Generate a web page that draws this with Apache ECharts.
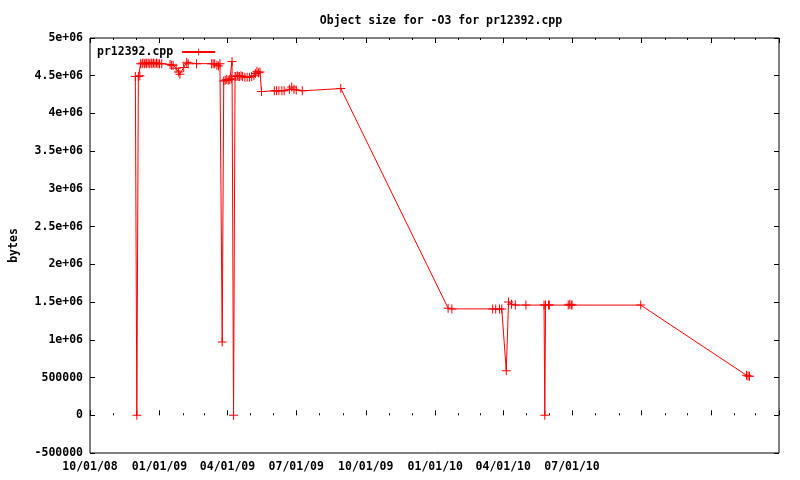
<!DOCTYPE html>
<html><head><meta charset="utf-8">
<script src="https://cdn.jsdelivr.net/npm/echarts@6/dist/echarts.min.js"></script>
<style>html,body{margin:0;padding:0;background:#fff}#c{width:800px;height:480px}</style>
</head><body><div id="c"></div>
<script>
const dates = [
'2008-11-30','2008-12-02','2008-12-04','2008-12-06','2008-12-07','2008-12-09','2008-12-10','2008-12-12','2008-12-14','2008-12-15',
'2008-12-17','2008-12-19','2008-12-21','2008-12-22','2008-12-24','2008-12-26','2008-12-28','2008-12-30','2009-01-01','2009-01-04',
'2009-01-15','2009-01-17','2009-01-19','2009-01-23','2009-01-26','2009-01-28','2009-02-02','2009-02-06','2009-02-08','2009-02-19',
'2009-03-11','2009-03-13','2009-03-15','2009-03-18','2009-03-20','2009-03-22','2009-03-25','2009-03-27','2009-03-29','2009-03-31',
'2009-04-02','2009-04-04','2009-04-06','2009-04-07','2009-04-09','2009-04-11','2009-04-12','2009-04-14','2009-04-15','2009-04-17',
'2009-04-19','2009-04-21','2009-04-24','2009-04-27','2009-04-30','2009-05-03','2009-05-06','2009-05-08','2009-05-10','2009-05-12',
'2009-05-14','2009-05-16','2009-06-02','2009-06-05','2009-06-08','2009-06-12','2009-06-15','2009-06-22','2009-06-25','2009-06-28',
'2009-07-01','2009-07-09','2009-08-29','2010-01-18','2010-01-23','2010-03-18','2010-03-22','2010-03-27','2010-03-30','2010-04-05',
'2010-04-08','2010-04-12','2010-04-17','2010-05-01','2010-05-25','2010-05-26','2010-05-27','2010-05-31','2010-06-01','2010-06-26',
'2010-06-28','2010-06-30','2010-07-01','2010-09-30','2011-02-17','2011-02-19','2011-02-21'
];
const sizes = [
4490000,0,4490000,4500000,4660000,4660000,4670000,4660000,4670000,4660000,
4670000,4660000,4670000,4660000,4670000,4660000,4670000,4660000,4660000,4660000,
4650000,4640000,4640000,4600000,4550000,4520000,4610000,4680000,4660000,4660000,
4660000,4660000,4660000,4640000,4630000,4660000,970000,4430000,4440000,4450000,
4440000,4450000,4460000,4690000,0,4490000,4490000,4500000,4490000,4490000,
4500000,4490000,4480000,4480000,4480000,4490000,4500000,4530000,4560000,4540000,
4550000,4290000,4300000,4300000,4300000,4300000,4300000,4320000,4350000,4320000,
4310000,4300000,4330000,1420000,1410000,1410000,1410000,1410000,1410000,590000,
1500000,1470000,1460000,1460000,1460000,0,1460000,1460000,1460000,1460000,
1470000,1460000,1460000,1460000,530000,522000,518000
];
const xMajorTicks = ['2008-10-01','2009-01-01','2009-04-01','2009-07-01','2009-10-01','2010-01-01','2010-04-01','2010-07-01','2010-10-01','2011-01-01','2011-04-01'];
const xTickLabels = ['10/01/08','01/01/09','04/01/09','07/01/09','10/01/09','01/01/10','04/01/10','07/01/10','','',''];
const xMinorTicks = ['2008-11-01','2008-12-01','2009-02-01','2009-03-01','2009-05-01','2009-06-01','2009-08-01','2009-09-01','2009-11-01','2009-12-01',
'2010-02-01','2010-03-01','2010-05-01','2010-06-01','2010-08-01','2010-09-01','2010-11-01','2010-12-01','2011-02-01','2011-03-01'];
const yTickLabels = ['-500000','0','500000','1e+06','1.5e+06','2e+06','2.5e+06','3e+06','3.5e+06','4e+06','4.5e+06','5e+06'];
const seriesName = 'pr12392.cpp';
const chartTitle = 'Object size for -O3 for pr12392.cpp';

const ts = s => Date.parse(s);
const majorTs = xMajorTicks.map(ts);
const minorTs = xMinorTicks.map(ts);
const data = dates.map((d, i) => [ts(d), sizes[i]]);
const FONT = 'DejaVu Sans Mono';
const txt = {fontFamily: FONT, fontSize: 11.5, fontWeight: 'bold', color: '#000'};
const plus = 'path://M4,0h1v9h-1z M0,4h9v1h-9z';
const xMin = majorTs[0], xMax = majorTs[majorTs.length - 1];
const YMIN = -500000, YMAX = 5000000, YINT = 500000;

const xBase = {type: 'value', min: xMin, max: xMax, gridIndex: 0, scale: true, splitLine: {show: false}, axisLine: {show: false}};
const chart = echarts.init(document.getElementById('c'), null, {renderer: 'canvas'});
chart.setOption({
  animation: false,
  backgroundColor: '#fff',
  title: {text: chartTitle, left: 436, top: 10, textAlign: 'center',
    textStyle: Object.assign({}, txt)},
  legend: {left: 92, top: 41, align: 'right', itemWidth: 33, itemHeight: 9,
    textStyle: Object.assign({}, txt, {padding: [0, 4, 0, 0]}), data: [seriesName]},
  grid: {left: 90, right: 21, top: 38, bottom: 27, show: true, borderColor: '#000', borderWidth: 1, backgroundColor: 'transparent'},
  xAxis: [
    Object.assign({}, xBase, {position: 'bottom',
      axisTick: {inside: true, length: 5, lineStyle: {color: '#000'}, customValues: majorTs},
      axisLabel: Object.assign({}, txt, {margin: 8, customValues: majorTs, hideOverlap: false,
        formatter: v => { const i = majorTs.indexOf(v); return i >= 0 ? xTickLabels[i] : ''; }})}),
    Object.assign({}, xBase, {position: 'bottom',
      axisTick: {inside: true, length: 2, lineStyle: {color: '#000'}, customValues: minorTs},
      axisLabel: {show: false}}),
    Object.assign({}, xBase, {position: 'top',
      axisTick: {inside: true, length: 5, lineStyle: {color: '#000'}, customValues: majorTs},
      axisLabel: {show: false}}),
    Object.assign({}, xBase, {position: 'top',
      axisTick: {inside: true, length: 2, lineStyle: {color: '#000'}, customValues: minorTs},
      axisLabel: {show: false}})
  ],
  yAxis: [
    {type: 'value', min: YMIN, max: YMAX, interval: YINT, position: 'left',
     name: 'bytes', nameLocation: 'middle', nameGap: 70, nameRotate: 90,
     nameTextStyle: Object.assign({}, txt),
     splitLine: {show: false}, axisLine: {show: false},
     axisTick: {inside: true, length: 5, lineStyle: {color: '#000'}},
     axisLabel: Object.assign({}, txt, {margin: 7,
       formatter: v => yTickLabels[Math.round((v - YMIN) / YINT)]})},
    {type: 'value', min: YMIN, max: YMAX, interval: YINT, position: 'right',
     splitLine: {show: false}, axisLine: {show: false},
     axisTick: {inside: true, length: 5, lineStyle: {color: '#000'}},
     axisLabel: {show: false}}
  ],
  series: [{
    name: seriesName, type: 'line', xAxisIndex: 0, yAxisIndex: 0,
    data: data, showAllSymbol: true, symbol: plus, symbolSize: 9,
    lineStyle: {color: '#ff0000', width: 1}, itemStyle: {color: '#ff0000'},
    emphasis: {disabled: true}
  }]
});
</script></body></html>
